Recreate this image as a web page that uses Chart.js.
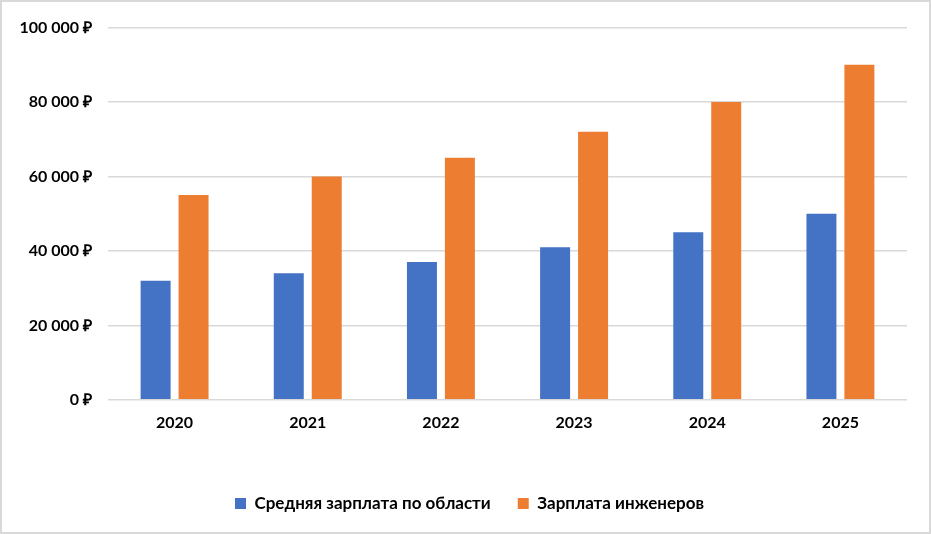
<!DOCTYPE html>
<html>
<head>
<meta charset="utf-8">
<script src="https://cdn.jsdelivr.net/npm/chart.js@4"></script>
<style>
    html, body { margin: 0; padding: 0; background: #fff; }
    #wrap {
        width: 931px; height: 534px; box-sizing: border-box;
        border: 2px solid #d9d9d9; background: #fff;
    }
</style>
</head>
<body>
<div id="wrap"><canvas id="salaryChart" width="927" height="530"></canvas></div>
<script>
    // данные
    const years = ['2020', '2021', '2022', '2023', '2024', '2025'];
    const avgRegion = [32000, 34000, 37000, 41000, 45000, 50000];
    const engineers = [55000, 60000, 65000, 72000, 80000, 90000];
    const seriesNames = ['Средняя зарплата по области', 'Зарплата инженеров'];

    const FONT = 'Lato, "Open Sans", sans-serif';

    // формат оси: 100 000 ₽
    function rub(v) {
        return String(v).replace(/\B(?=(\d{3})+(?!\d))/g, '\u00a0') + '\u00a0₽';
    }

    // сдвигаем легенду вправо, чтобы она стояла по центру как в оригинале
    const legendShift = {
        id: 'legendShift',
        afterLayout(chart) {
            if (!chart.legend) return;
            chart.legend.left += 15;
            chart.legend.right += 15;
        }
    };

    new Chart(document.getElementById('salaryChart').getContext('2d'), {
        type: 'bar',
        data: {
            labels: years,
            datasets: [
                { label: seriesNames[0], data: avgRegion, backgroundColor: '#4472C4' },
                { label: seriesNames[1], data: engineers, backgroundColor: '#ED7D31' }
            ]
        },
        options: {
            responsive: false,
            animation: false,
            devicePixelRatio: 1,
            categoryPercentage: 0.57,
            barPercentage: 0.79,
            layout: { padding: { top: 18, right: 22, bottom: 10, left: 0 } },
            plugins: {
                tooltip: { enabled: false },
                legend: {
                    position: 'bottom',
                    labels: {
                        boxWidth: 11, boxHeight: 11, padding: 27,
                        color: '#000',
                        font: { family: FONT, size: 17, weight: 'bold' }
                    }
                }
            },
            scales: {
                x: {
                    grid: { display: false },
                    border: { display: false },
                    afterFit: axis => { axis.height += 31; },
                    ticks: {
                        color: '#000', padding: 5,
                        font: { family: FONT, size: 16, weight: 'bold' }
                    }
                },
                y: {
                    min: 0, max: 100000,
                    afterFit: axis => { axis.width = 106; },
                    grid: { color: '#d9d9d9', lineWidth: 1.5, drawTicks: false },
                    border: { display: false },
                    ticks: {
                        stepSize: 20000, color: '#000', padding: 16,
                        font: { family: FONT, size: 16, weight: 'bold' },
                        callback: v => rub(v)
                    }
                }
            }
        },
        plugins: [legendShift]
    });
</script>
</body>
</html>
